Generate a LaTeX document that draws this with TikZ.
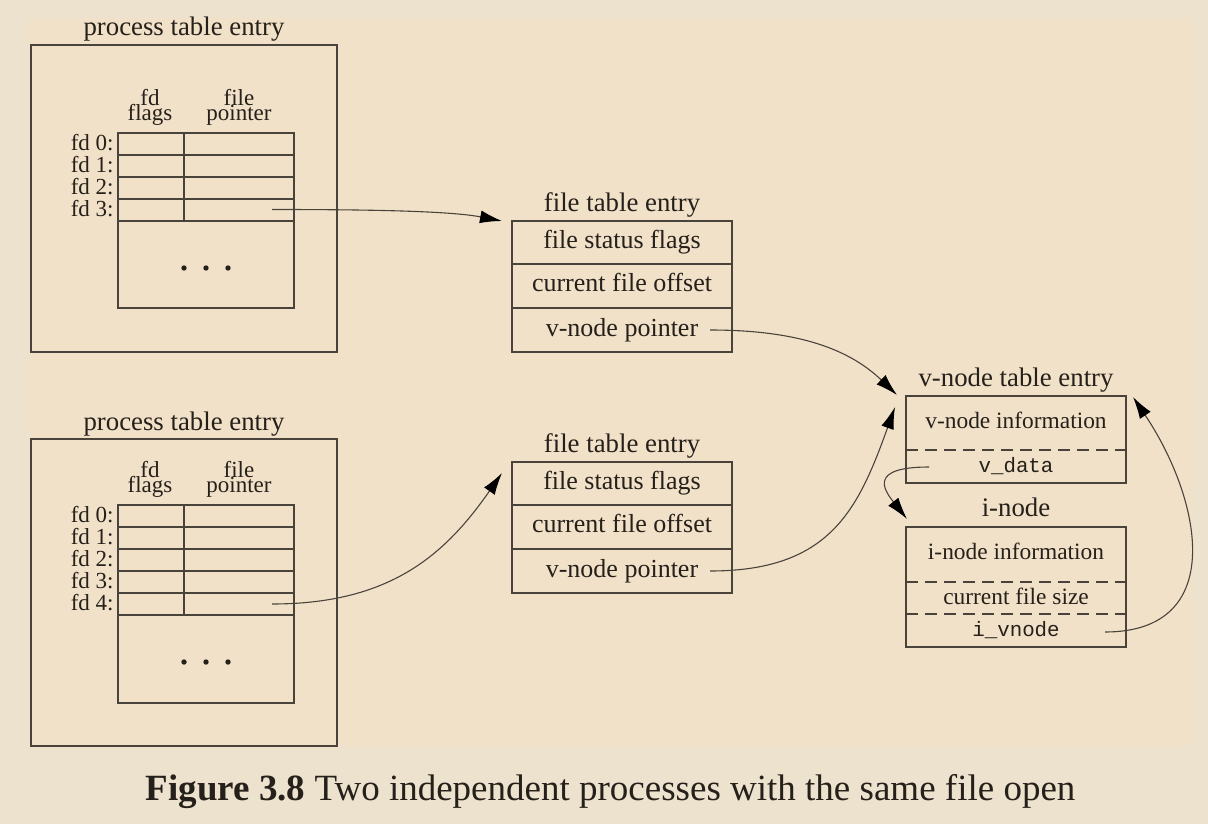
\documentclass[tikz,border=0pt]{standalone}
\usepackage{fontspec}
\setmainfont{Liberation Serif}
\setmonofont{Liberation Mono}
\usetikzlibrary{arrows.meta}
\definecolor{bgout}{RGB}{236,226,206}
\definecolor{bgin}{RGB}{241,225,200}
\definecolor{ink}{RGB}{38,32,26}
\definecolor{linec}{RGB}{74,67,60}
\begin{document}
\begin{tikzpicture}[x=0.5pt,y=-0.5pt,
  box/.style={draw=linec, line width=0.65pt},
  ptr/.style={draw=linec, line width=0.55pt, -{Latex[length=11pt,width=6.5pt,fill=black,color=black]}},
  dashsep/.style={draw=linec, line width=0.6pt, dash pattern=on 6pt off 3.5pt},
  ttl/.style={text=ink, font=\fontsize{13.4}{15}\selectfont, inner sep=0pt},
  cell/.style={text=ink, font=\fontsize{13}{15}\selectfont, inner sep=0pt},
  small/.style={text=ink, font=\fontsize{11.7}{13}\selectfont, inner sep=0pt},
  hdr/.style={text=ink, font=\fontsize{11.5}{12}\selectfont, inner sep=0pt},
  colhdr/.style={text=ink, align=center, anchor=south, inner sep=0pt,
    font={\fontsize{11.5}{7.35}\selectfont\lineskiplimit=-100pt\lineskip=0pt}},
  code/.style={text=ink, font=\fontsize{10.4}{12}\selectfont\ttfamily, inner sep=0pt},
  dot/.style={circle, fill=ink, inner sep=0pt, minimum size=2.7pt},
  ]
\fill[bgout] (0,0) rectangle (1208,824);
\fill[bgin] (29,18) rectangle (1192,746);
\useasboundingbox (0,0) rectangle (1208,824);

% ---------- process table entry 1 ----------
\draw[box] (31,45) rectangle (337,352);
\node[ttl, anchor=base] (pt1t) at (184,36) {process table entry};
\node[colhdr] (pt1h1) at (150,125.7) {fd\\flags};
\node[colhdr] (pt1h2) at (239,125.7) {file\\pointer};
\draw[box] (118,133) rectangle (294,308);
\foreach \y in {155,177,199,221} \draw[box] (118,\y) -- (294,\y);
\draw[box] (184,133) -- (184,221);
\foreach \i/\y in {0/144,1/166,2/188,3/210}
  \node[hdr, anchor=base east] (pt1fd\i) at (114,\y+6.5) {fd \i:};
\node[dot] (pt1d1) at (184,268) {};
\node[dot] (pt1d2) at (206,268) {};
\node[dot] (pt1d3) at (228,268) {};
\coordinate (s1) at (272,209.5);

% ---------- process table entry 2 ----------
\draw[box] (31,439) rectangle (337,746);
\node[ttl, anchor=base] (pt2t) at (184,430.5) {process table entry};
\node[colhdr] (pt2h1) at (150,497.7) {fd\\flags};
\node[colhdr] (pt2h2) at (239,497.7) {file\\pointer};
\draw[box] (118,505) rectangle (294,703);
\foreach \y in {527,549,571,593,615} \draw[box] (118,\y) -- (294,\y);
\draw[box] (184,505) -- (184,615);
\foreach \i/\y in {0/516,1/538,2/560,3/582,4/604}
  \node[hdr, anchor=base east] (pt2fd\i) at (114,\y+6.5) {fd \i:};
\node[dot] (pt2d1) at (184,662) {};
\node[dot] (pt2d2) at (206,662) {};
\node[dot] (pt2d3) at (228,662) {};
\coordinate (s2) at (272,604);

% ---------- file table entry 1 ----------
\draw[box] (512,221) rectangle (732,352);
\draw[box] (512,264) -- (732,264);
\draw[box] (512,308) -- (732,308);
\node[ttl, anchor=base] (ft1t) at (622,211.7) {file table entry};
\node[cell, anchor=base] (ft1a) at (622,248.3) {file status flags};
\node[cell, anchor=base] (ft1b) at (622,291.7) {current file offset};
\node[cell, anchor=base] (ft1c) at (622,336) {v-node pointer};
\coordinate (e1) at (502,221);
\coordinate (s3) at (710,330);

% ---------- file table entry 2 ----------
\draw[box] (512,462) rectangle (732,593);
\draw[box] (512,505) -- (732,505);
\draw[box] (512,549) -- (732,549);
\node[ttl, anchor=base] (ft2t) at (622,452.7) {file table entry};
\node[cell, anchor=base] (ft2a) at (622,489.3) {file status flags};
\node[cell, anchor=base] (ft2b) at (622,532.7) {current file offset};
\node[cell, anchor=base] (ft2c) at (622,577) {v-node pointer};
\coordinate (e2) at (502,473);
\coordinate (s4) at (710,571);

% ---------- v-node table entry ----------
\draw[box] (906,396) rectangle (1126,483);
\draw[dashsep] (906,450) -- (1126,450);
\node[ttl, anchor=base] (vnt) at (1016,386) {v-node table entry};
\node[small, anchor=base] (vna) at (1016,428.3) {v-node information};
\node[code, anchor=base] (vnb) at (1016,472) {v\_data};
\coordinate (e3) at (897,395);
\coordinate (e4) at (895,407);
\coordinate (s5) at (929,467);
\coordinate (e6) at (1133,397);

% ---------- i-node ----------
\draw[box] (906,527) rectangle (1126,647);
\draw[dashsep] (906,582) -- (1126,582);
\draw[dashsep] (906,614) -- (1126,614);
\node[ttl, anchor=base] (int) at (1016,516.7) {i-node};
\node[small, anchor=base] (ina) at (1016,559.3) {i-node information};
\node[small, anchor=base] (inb) at (1016,604) {current file size};
\node[code, anchor=base] (inc) at (1016,636.5) {i\_vnode};
\coordinate (e5) at (907,519);
\coordinate (s6) at (1105,632);

% ---------- pointers ----------
\draw[ptr] (s1) .. controls (370,209.5) and (450,211) .. (e1);
\draw[ptr] (s2) .. controls (390,604) and (445,555) .. (e2);
\draw[ptr] (s3) .. controls (800,330) and (850,350) .. (e3);
\draw[ptr] (s4) .. controls (830,571) and (858,510) .. (e4);
\draw[ptr] (s5) .. controls (868,467) and (884,490) .. (e5);
\draw[ptr] (s6) .. controls (1228,632) and (1202,500) .. (e6);

% ---------- caption ----------
\node[text=ink, font=\fontsize{18.5}{20}\selectfont, inner sep=0pt, anchor=base] (cap) at (610.5,800)
  {\textbf{Figure 3.8} Two independent processes with the same file open};
\end{tikzpicture}
\end{document}
